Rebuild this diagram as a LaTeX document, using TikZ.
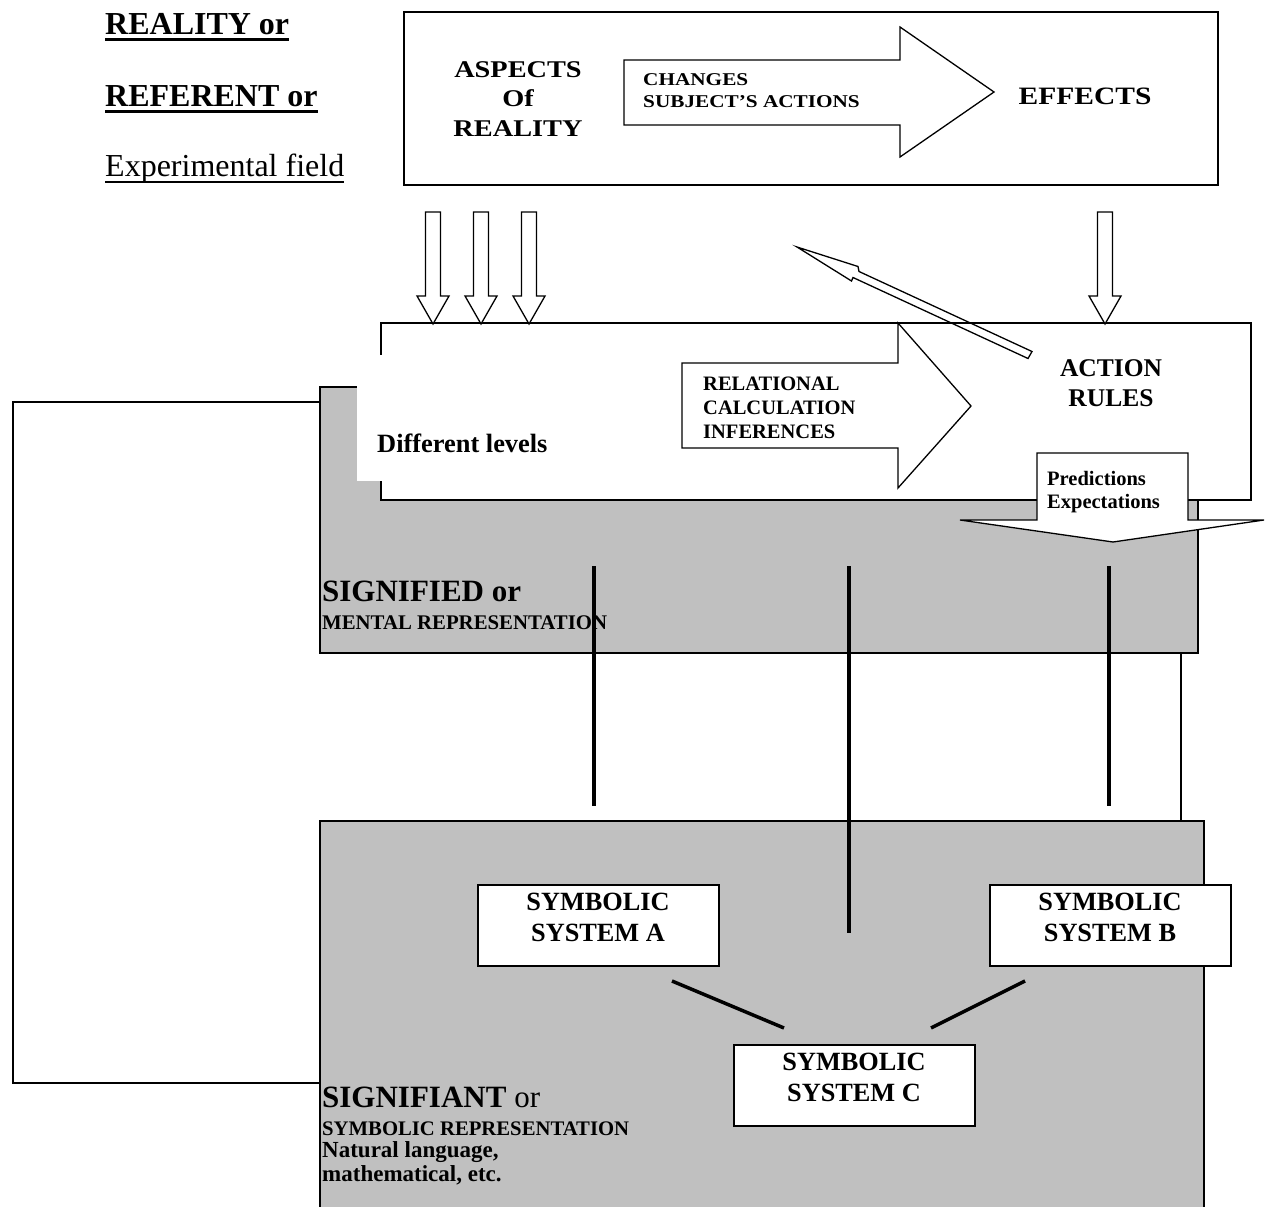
\documentclass[tikz,border=0pt]{standalone}
\usepackage{fontspec}
\setmainfont{Liberation Serif}
\newfontfamily\widefont[FakeStretch=1.18]{Liberation Serif}
\usepackage{xcolor}
\usetikzlibrary{shapes,arrows,positioning,calc}
\definecolor{shade}{RGB}{192,192,192}

\begin{document}
\begin{tikzpicture}[x=1pt, y=-1pt]
    \tikzstyle{box} = [draw, fill=white, line width=2pt, inner sep=0pt]
    \tikzstyle{greybox} = [draw, fill=shade, line width=2pt, inner sep=0pt]
    \tikzstyle{sysbox} = [draw, fill=white, line width=2pt, minimum width=241pt, minimum height=81pt, align=center, text depth=16pt, font=\fontsize{26.3}{31}\selectfont\bfseries]
    \tikzstyle{hollow} = [draw, fill=white, line width=1.3pt]
    \tikzstyle{link} = [line width=3.5pt]
    \tikzstyle{thinline} = [line width=1.7pt]
    \tikzstyle{heading} = [anchor=base west, inner sep=0pt, font=\fontsize{32}{38}\selectfont\bfseries]
    \tikzstyle{bigtxt} = [inner sep=0pt, align=center, font=\widefont\fontsize{24}{29.5}\selectfont\bfseries]
    \tikzstyle{arrowtxt} = [anchor=west, inner sep=0pt, align=left, font=\fontsize{20.5}{24.2}\selectfont\bfseries]

    \useasboundingbox (0,0) rectangle (1266,1207);

    \node [greybox, minimum width=878pt, minimum height=266pt] (signified) at (759,520) {};
    \node [greybox, minimum width=884pt, minimum height=409pt] (signifiant) at (762,1025.5) {};
    \node [box, minimum width=814pt, minimum height=173pt] (realitybox) at (811,98.5) {};
    \node [box, minimum width=870pt, minimum height=177pt] (rulesbox) at (816,411.5) {};

    \draw [thinline] ($(signified.north west)+(0,16)$) -| ($(signifiant.west)+(-306,57.5)$) -- ($(signifiant.west)+(0,57.5)$);
    \draw [thinline] ($(signified.south east)+(-18,0)$) -- ($(signifiant.north east)+(-24,0)$);

    \draw [hollow] (624,60) -- (900,60) -- (900,27) -- (994,92) -- (900,157) -- (900,125) -- (624,125) -- cycle;
    \draw [hollow] (682,363) -- (898,363) -- (898,323) -- (971,406) -- (898,488) -- (898,448) -- (682,448) -- cycle;
    \draw [hollow] (1037,453) -- (1188,453) -- (1188,520) -- (1264,520) -- (1113,542) -- (960,520) -- (1037,520) -- cycle;
    \draw [hollow, fill=none] (797,247) -- (858,266.5) -- (859,271.5) -- (1032,351.5) -- (1028,358.5) -- (853,277.5) -- (851.5,281) -- cycle;
    \foreach \xpos in {433,481,529,1105}
        \draw [hollow] (\xpos-7.5,212) -- ++(15,0) -- ++(0,84) -- ++(8.5,0) -- ++(-16,28) -- ++(-16,-28) -- ++(8.5,0) -- cycle;

    \fill [white] (357,355) rectangle (570,481);

    \node [heading] (realitytxt) at (105,35) {REALITY or};
    \node [heading] (referenttxt) at (105,106.7) {REFERENT or};
    \node [heading, font=\fontsize{32}{38}\selectfont] (fieldtxt) at (105,176.7) {Experimental field};
    \draw [line width=2.6pt] ([yshift=-4.3pt]realitytxt.base west) -- ([yshift=-4.3pt]realitytxt.base east);
    \draw [line width=2.6pt] ([yshift=-4.8pt]referenttxt.base west) -- ([yshift=-4.8pt]referenttxt.base east);
    \draw [line width=1.8pt] ([yshift=-5pt]fieldtxt.base west) -- ([yshift=-5pt]fieldtxt.base east);

    \node [bigtxt] (aspects) at (518,99) {ASPECTS\\Of\\REALITY};
    \node [bigtxt, anchor=west, align=left, font=\widefont\fontsize{18}{22.3}\selectfont\bfseries] (changes) at (643,90.7) {CHANGES\\SUBJECT’S ACTIONS};
    \node [bigtxt, font=\widefont\fontsize{25}{30}\selectfont\bfseries] (effects) at (1085,96.7) {EFFECTS};

    \node [anchor=base west, inner sep=0pt, font=\fontsize{26.4}{30}\selectfont\bfseries] (levels) at (377,452) {Different levels};
    \node [arrowtxt] (relational) at (703,407.7) {RELATIONAL\\CALCULATION\\INFERENCES};
    \node [inner sep=0pt, align=center, font=\fontsize{25.5}{30}\selectfont\bfseries] (actionrules) at (1111,383.3) {ACTION\\RULES};
    \node [arrowtxt, font=\fontsize{20.5}{23.3}\selectfont\bfseries] (predictions) at (1047,492) {Predictions\\Expectations};

    \node [anchor=base west, inner sep=0pt, font=\fontsize{31}{36}\selectfont\bfseries] (signifiedtxt) at (322,601.7) {SIGNIFIED or};
    \node [anchor=base west, inner sep=0pt, font=\fontsize{20.8}{24}\selectfont\bfseries] (mentaltxt) at (322,629) {MENTAL REPRESENTATION};

    \coordinate (linkAtop) at (594,566);
    \coordinate (linkAbot) at (594,806);
    \coordinate (linkMtop) at (849,566);
    \coordinate (linkMbot) at (849,933);
    \coordinate (linkBtop) at (1109,566);
    \coordinate (linkBbot) at (1109,806);
    \draw [link] (linkAtop) -- (linkAbot);
    \draw [link] (linkMtop) -- (linkMbot);
    \draw [link] (linkBtop) -- (linkBbot);

    \node [sysbox] (symA) at (598,925.5) {SYMBOLIC\\SYSTEM A};
    \node [sysbox, right=269pt of symA] (symB) {SYMBOLIC\\SYSTEM B};
    \node [sysbox, below right=77pt and 13pt of symA] (symC) {SYMBOLIC\\SYSTEM C};

    \coordinate (acstart) at (672,981);
    \coordinate (acend) at (784,1028);
    \coordinate (bcstart) at (1025,981);
    \coordinate (bcend) at (931,1028);
    \draw [link] (acstart) -- (acend);
    \draw [link] (bcstart) -- (bcend);

    \node [anchor=base west, inner sep=0pt, font=\fontsize{31}{36}\selectfont] (signifianttxt) at (322,1107) {\textbf{SIGNIFIANT} or};
    \node [anchor=base west, inner sep=0pt, font=\fontsize{20.7}{24}\selectfont\bfseries] (symbolictxt) at (322,1135) {SYMBOLIC REPRESENTATION};
    \node [anchor=base west, inner sep=0pt, font=\fontsize{23}{27}\selectfont\bfseries] (naturaltxt) at (322,1157.3) {Natural language,};
    \node [anchor=base west, inner sep=0pt, font=\fontsize{23}{27}\selectfont\bfseries] (mathtxt) at (322,1181.7) {mathematical, etc.};
\end{tikzpicture}
\end{document}
